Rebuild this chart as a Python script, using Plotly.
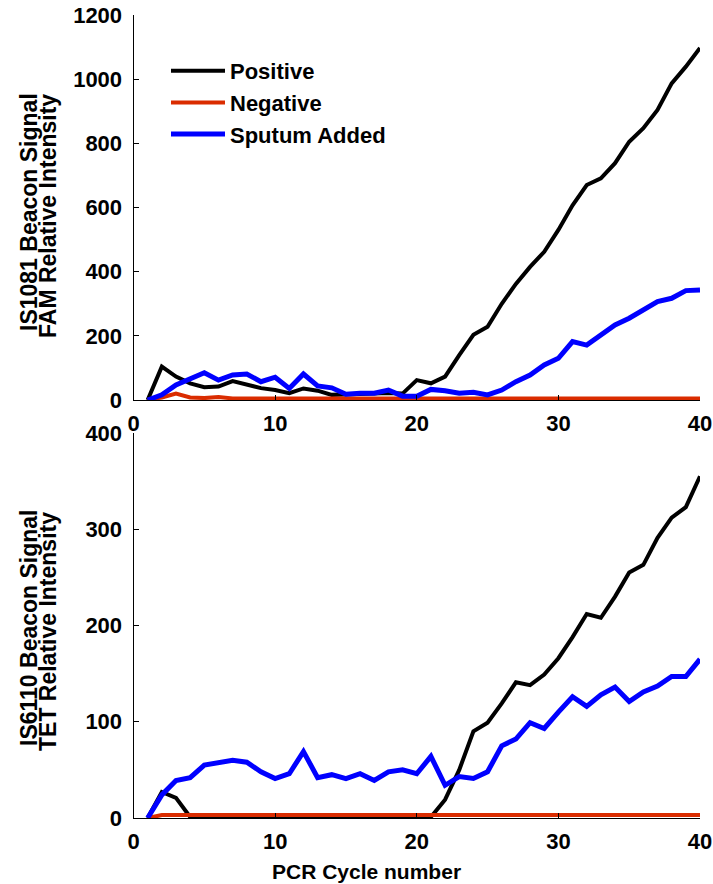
import plotly.graph_objects as go

cycles = list(range(1, 41))

# IS1081 / FAM panel
fam_positive = [0, 104, 73, 52, 40, 42, 59, 47, 37, 31, 21, 36, 29, 16, 18, 18, 20, 22, 20, 62,
                52, 73, 140, 203, 228, 300, 362, 415, 462, 530, 607, 670, 691, 738, 805, 847, 904, 987, 1039, 1097]
fam_negative = [0, 8, 20, 8, 6, 9, 5, 5, 5, 5, 5, 5, 5, 5, 5, 5, 5, 5, 5, 5,
                5, 5, 5, 5, 5, 5, 5, 5, 5, 5, 5, 5, 5, 5, 5, 5, 5, 5, 5, 5]
fam_sputum = [0, 16, 47, 67, 85, 62, 78, 81, 57, 71, 36, 81, 44, 38, 18, 21, 21, 31, 12, 12,
              33, 29, 21, 24, 16, 31, 57, 78, 109, 130, 182, 171, 203, 234, 255, 281, 307, 317, 341, 343]

# IS6110 / TET panel
tet_positive = [0, 27, 21, 1, 0, 1, 0, 1, 0, 0, 0, 0, 0, 0, 0, 0, 0, 0, 0, 0,
                1, 19, 50, 90, 99, 119, 141, 138, 149, 166, 188, 212, 208, 230, 255, 263, 291, 312, 323, 355]
tet_negative = [0, 3, 3, 3, 3, 3, 3, 3, 3, 3, 3, 3, 3, 3, 3, 3, 3, 3, 3, 3,
                3, 3, 3, 3, 3, 3, 3, 3, 3, 3, 3, 3, 3, 3, 3, 3, 3, 3, 3, 3]
tet_sputum = [0, 24, 39, 42, 55, 57, 60, 58, 48, 41, 46, 69, 42, 45, 41, 46, 39, 48, 50, 46,
              64, 34, 43, 41, 48, 75, 82, 99, 93, 110, 126, 116, 128, 136, 121, 131, 137, 147, 147, 165]

series_names = ["Positive", "Negative", "Sputum Added"]
series_colors = ["#000000", "#DA2C00", "#0000FF"]
series_widths = [4, 4, 5]

x_ticks = [0, 10, 20, 30, 40]
fam_ticks = [0, 200, 400, 600, 800, 1000, 1200]
tet_ticks = [0, 100, 200, 300, 400]

W, H = 713, 884
FONT = "Liberation Sans"


def fx(px):
    return px / W


def fy(py):
    return 1 - py / H


fig = go.Figure()

for i, (name, ys) in enumerate(zip(series_names, [fam_positive, fam_negative, fam_sputum])):
    fig.add_trace(go.Scatter(x=cycles, y=ys, mode="lines", name=name,
                             line=dict(color=series_colors[i], width=series_widths[i]),
                             xaxis="x", yaxis="y", showlegend=True))
for i, (name, ys) in enumerate(zip(series_names, [tet_positive, tet_negative, tet_sputum])):
    fig.add_trace(go.Scatter(x=cycles, y=ys, mode="lines", name=name,
                             line=dict(color=series_colors[i], width=series_widths[i]),
                             xaxis="x2", yaxis="y2", showlegend=False))

tickfont = dict(family=FONT, size=22, color="black", weight="bold")
axis_common = dict(showline=True, linecolor="black", linewidth=1, ticks="inside", ticklen=5,
                   tickcolor="black", showgrid=False, zeroline=False, mirror=False,
                   automargin=False, ticklabeloverflow="allow", tickfont=tickfont)

xdom = [fx(133.5), fx(700)]
top_dom = [fy(400), fy(15)]
bot_dom = [fy(818), fy(433)]

fig.update_layout(
    template="none",
    width=W, height=H,
    margin=dict(l=0, r=0, t=0, b=0, autoexpand=False),
    paper_bgcolor="white", plot_bgcolor="white",
    showlegend=True,
    xaxis=dict(domain=xdom, range=[0, 40], tickvals=x_ticks, anchor="y", ticklabelstandoff=4, **axis_common),
    yaxis=dict(domain=top_dom, range=[0, 1200], tickvals=fam_ticks, anchor="x", ticklabelstandoff=6, **axis_common),
    xaxis2=dict(domain=xdom, range=[0, 40], tickvals=x_ticks, anchor="y2", ticklabelstandoff=4, **axis_common),
    yaxis2=dict(domain=bot_dom, range=[0, 400], tickvals=tet_ticks, anchor="x2", ticklabelstandoff=6, **axis_common),
    legend=dict(x=fx(166), y=fy(50), xanchor="left", yanchor="top", xref="paper", yref="paper",
                bgcolor="rgba(0,0,0,0)", borderwidth=0, itemwidth=54, tracegroupgap=0,
                font=dict(family=FONT, size=22, color="black", weight="bold")),
)

title_font = dict(family=FONT, size=23, color="black", weight="bold")
annos = [
    ("IS1081 Beacon Signal", 29, 212),
    ("FAM Relative Intensity", 48, 216),
    ("IS6110 Beacon Signal", 29, 628),
    ("TET Relative Intensity", 48, 632),
]
for text, px, py in annos:
    fig.add_annotation(text=text, x=fx(px), y=fy(py), xref="paper", yref="paper",
                       showarrow=False, textangle=-90, xanchor="center", yanchor="middle",
                       font=title_font)
fig.add_annotation(text="PCR Cycle number", x=fx(367), y=fy(871), xref="paper", yref="paper",
                   showarrow=False, xanchor="center", yanchor="middle",
                   font=dict(family=FONT, size=21, color="black", weight="bold"))

fig.write_html("out.html", config={"displayModeBar": False},
               post_script="document.body.style.margin='0';document.body.style.overflow='hidden';")
